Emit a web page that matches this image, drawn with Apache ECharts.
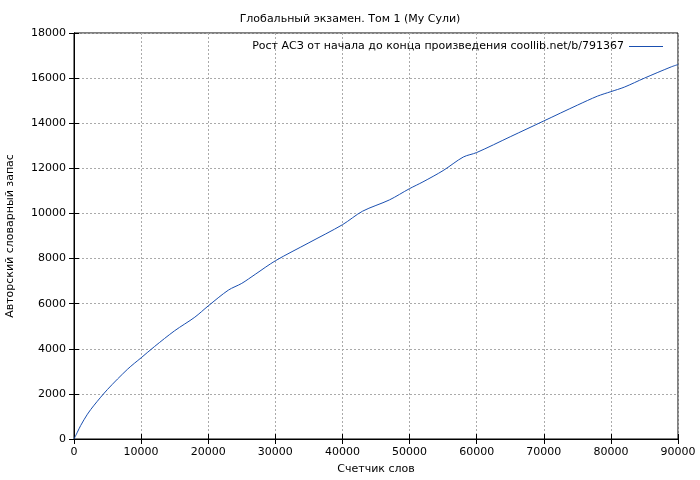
<!DOCTYPE html>
<html><head><meta charset="utf-8">
<script src="https://cdn.jsdelivr.net/npm/echarts@6/dist/echarts.min.js"></script>
<style>html,body{margin:0;padding:0;background:#fff}#c{width:700px;height:480px}</style>
</head><body><div id="c"></div>
<script>
const wordCount = [0,500,1000,2000,3000,5000,8000,10000,12000,15000,18000,20000,23000,25000,27000,30000,35000,40000,43000,47000,50000,52000,55000,58000,60000,65000,70000,75000,78000,80000,82000,85000,89000,90000];
const vocab =     [0,300,600,1100,1500,2200,3100,3600,4100,4800,5400,5900,6600,6900,7300,7900,8700,9500,10100,10600,11100,11400,11900,12500,12700,13400,14100,14800,15200,15400,15600,16000,16500,16600];
const titleText = 'Глобальный экзамен. Том 1 (Му Сули)';
const seriesName = 'Рост АСЗ от начала до конца произведения coollib.net/b/791367';
const xName = 'Счетчик слов', yName = 'Авторский словарный запас';
const font = 'DejaVu Sans';
const data = wordCount.map((x,i)=>[x,vocab[i]]);
const axBase = {axisLine:{lineStyle:{color:'#000'}},axisTick:{inside:true,length:5,lineStyle:{color:'#000'}},
  axisLabel:{color:'#000',fontFamily:font,fontSize:11,formatter:v=>String(v)}};
const chart = echarts.init(document.getElementById('c'));
chart.setOption({
  animation:false,
  title:{text:titleText,left:'center',top:9,textStyle:{fontFamily:font,fontSize:11,fontWeight:'normal',color:'#000'}},
  legend:{right:32,top:36,align:'right',itemWidth:34,itemHeight:1,icon:'rect',itemGap:10,
    textStyle:{fontFamily:font,fontSize:11,color:'#000'},data:[seriesName]},
  grid:{left:74,right:22,top:33,bottom:41,containLabel:false,outerBoundsMode:'none',show:true,borderColor:'#000',borderWidth:1},
  xAxis:[Object.assign({type:'value',min:0,max:90000,interval:10000,name:xName,nameLocation:'middle',nameGap:25,
    nameTextStyle:{fontFamily:font,fontSize:11,color:'#000'},
    splitLine:{show:true,lineStyle:{color:'#aaa',type:[2,2]}}},axBase),
    Object.assign({},axBase,{type:'value',min:0,max:90000,interval:10000,position:'top',axisLabel:{show:false},splitLine:{show:false}})],
  yAxis:[Object.assign({type:'value',min:0,max:18000,interval:2000,name:yName,nameLocation:'middle',nameGap:58,
    nameTextStyle:{fontFamily:font,fontSize:11,color:'#000'},
    splitLine:{show:true,lineStyle:{color:'#aaa',type:[2,2]}}},axBase),
    Object.assign({},axBase,{type:'value',min:0,max:18000,interval:2000,position:'right',axisLabel:{show:false},splitLine:{show:false}})],
  series:[{name:seriesName,type:'line',data:data,showSymbol:false,smooth:0.3,lineStyle:{color:'#1a4fb0',width:1},itemStyle:{color:'#1a4fb0'}}]
});
</script></body></html>
